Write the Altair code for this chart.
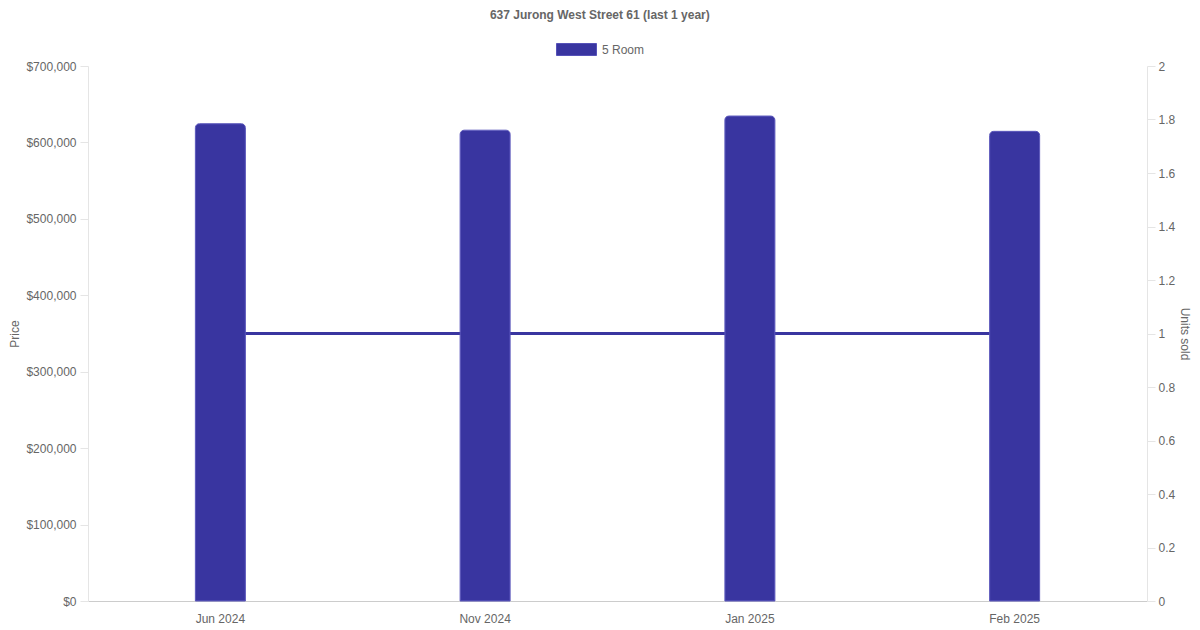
import altair as alt
import pandas as pd

months = ["Jun 2024", "Nov 2024", "Jan 2025", "Feb 2025"]
prices = [624500, 616000, 634500, 614500]
units_sold = [1, 1, 1, 1]
flat_type = ["5 Room"] * 4

df = pd.DataFrame({"month": months, "price": prices, "units": units_sold, "type": flat_type})

BAR = "#3935a0"
GREY = "#666666"
GRID = "#e5e5e5"
FONT = "Liberation Sans"

x_enc = alt.X("month:N", sort=months, title=None,
              scale=alt.Scale(paddingInner=0, paddingOuter=0),
              axis=alt.Axis(labelAngle=0, ticks=False, labelPadding=12, grid=False,
                            domainColor="#cccccc", labelColor=GREY, labelFontSize=12,
                            labelFont=FONT))

line = alt.Chart(df).mark_line(color=BAR, strokeWidth=3).encode(
    x=x_enc,
    y=alt.Y("units:Q", title="Units sold",
            scale=alt.Scale(domain=[0, 2]),
            axis=alt.Axis(orient="right", values=[i / 5 for i in range(11)], format="~g",
                          grid=False, tickColor=GRID, tickSize=8, domainColor=GRID,
                          labelColor=GREY, labelFontSize=12, labelFont=FONT,
                          labelPadding=3, titleColor=GREY, titleFontSize=12,
                          titleFont=FONT, titleFontWeight="normal", titlePadding=3)),
)

bars = alt.Chart(df).mark_bar(size=50, cornerRadiusTopLeft=4, cornerRadiusTopRight=4,
                              stroke="#5652b8", strokeWidth=1).encode(
    x=x_enc,
    y=alt.Y("price:Q", title="Price",
            scale=alt.Scale(domain=[0, 700000]),
            axis=alt.Axis(orient="left", values=list(range(0, 700001, 100000)),
                          format="$,.0f", gridColor=GRID, tickColor=GRID, tickSize=8,
                          domainColor=GRID, labelColor=GREY, labelFontSize=12,
                          labelFont=FONT, labelPadding=4, titleColor=GREY,
                          titleFontSize=12, titleFont=FONT, titleFontWeight="normal",
                          titlePadding=4)),
    color=alt.Color("type:N", scale=alt.Scale(range=[BAR]),
                    legend=alt.Legend(title=None, orient="none", legendX=468, legendY=-37,
                                      symbolType="M-1,-0.3H1V0.3H-1Z", symbolSize=1600,
                                      symbolStrokeColor="#5652b8", symbolStrokeWidth=1,
                                      labelColor=GREY, labelFontSize=12, labelFont=FONT,
                                      labelOffset=5)),
)

chart = alt.layer(line, bars).resolve_scale(y="independent").properties(
    width=1059,
    height=535,
    autosize=alt.AutoSizeParams(type="none"),
    padding={"left": 80, "top": 58, "right": 45, "bottom": 25},
    title=alt.TitleParams("637 Jurong West Street 61 (last 1 year)", fontSize=12,
                          fontWeight="bold", color=GREY, font=FONT, anchor="middle",
                          frame="bounds", offset=7),
).configure_view(stroke=None)

chart.save("out.html", embed_options={"renderer": "svg", "actions": False})
